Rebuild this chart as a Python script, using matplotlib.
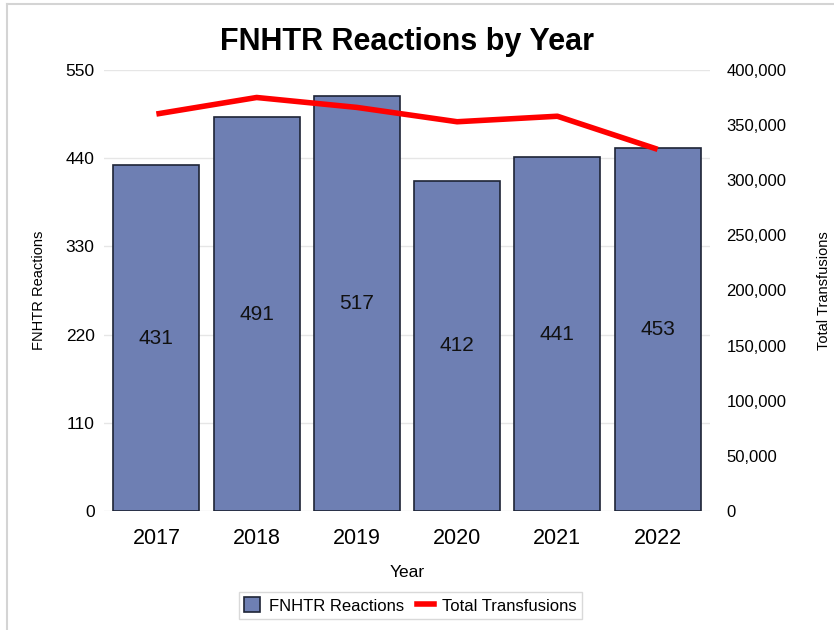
import matplotlib
matplotlib.use("Agg")
import matplotlib.pyplot as plt
from matplotlib.lines import Line2D
from matplotlib.patches import Patch
from matplotlib.ticker import FuncFormatter

plt.rcParams['font.family'] = ['Liberation Sans', 'DejaVu Sans']

years = ["2017", "2018", "2019", "2020", "2021", "2022"]
reactions = [431, 491, 517, 412, 441, 453]
transfusions = [360000, 375000, 366000, 353000, 358000, 328000]
left_ticks = [0, 110, 220, 330, 440, 550]
right_ticks = [0, 50000, 100000, 150000, 200000, 250000, 300000, 350000, 400000]

bar_color = "#6e7fb3"
edge_color = "#1e2436"

fig = plt.figure(figsize=(8.34, 6.3), dpi=100)
ax = fig.add_axes([0.125, 0.189, 0.726, 0.700])
x = list(range(len(years)))
ax.bar(x, reactions, width=0.86, color=bar_color, edgecolor=edge_color, linewidth=1.2, zorder=2)
for xi, v in zip(x, reactions):
    ax.text(xi, v / 2, str(v), ha='center', va='center', fontsize=15, color='#111111', zorder=3)

ax.set_xlim(-0.52, 5.52)
ax.set_ylim(0, 550)
ax.set_yticks(left_ticks)
ax.set_xticks(x)
ax.set_xticklabels(years, fontsize=15.5)
ax.tick_params(axis='y', labelsize=12.5, length=0, pad=7)
ax.tick_params(axis='x', length=0, pad=12)
ax.grid(axis='y', color='#e6e6e6', linewidth=1, zorder=0)
ax.set_axisbelow(True)
for s in ax.spines.values():
    s.set_visible(False)
ax.set_xlabel("Year", fontsize=12.5, labelpad=12)
ax.set_ylabel("FNHTR Reactions", fontsize=10.5, labelpad=14)

ax2 = ax.twinx()
ax2.plot(x, transfusions, color='#ff0000', linewidth=4, zorder=4, solid_capstyle='butt')
ax2.set_ylim(0, 400000)
ax2.set_yticks(right_ticks)
ax2.yaxis.set_major_formatter(FuncFormatter(lambda v, p: f"{int(v):,}"))
ax2.tick_params(axis='y', labelsize=12, length=0, pad=12)
for s in ax2.spines.values():
    s.set_visible(False)
ax2.set_ylabel("Total Transfusions", fontsize=10.5, labelpad=22)

ax.set_title("FNHTR Reactions by Year", fontsize=22, fontweight='bold', pad=14)

handles = [Patch(facecolor=bar_color, edgecolor=edge_color, linewidth=1.2),
           Line2D([0], [0], color='#ff0000', linewidth=4)]
leg = fig.legend(handles, ["FNHTR Reactions", "Total Transfusions"], loc='center',
                 bbox_to_anchor=(0.492, 0.039), ncol=2, frameon=True, fancybox=False,
                 fontsize=12, handlelength=1.0, handleheight=1.0, columnspacing=0.8,
                 handletextpad=0.5, borderpad=0.3)
leg.get_frame().set_edgecolor('#d0d0d0')
leg.get_frame().set_linewidth(1)

fig.add_artist(Line2D([0.0078, 0.0078], [0, 0.993], transform=fig.transFigure, color='#d4d4d4', linewidth=1.5))
fig.add_artist(Line2D([0.0078, 1.0], [0.993, 0.993], transform=fig.transFigure, color='#d4d4d4', linewidth=1.5))

fig.savefig("out.png", dpi=100)
